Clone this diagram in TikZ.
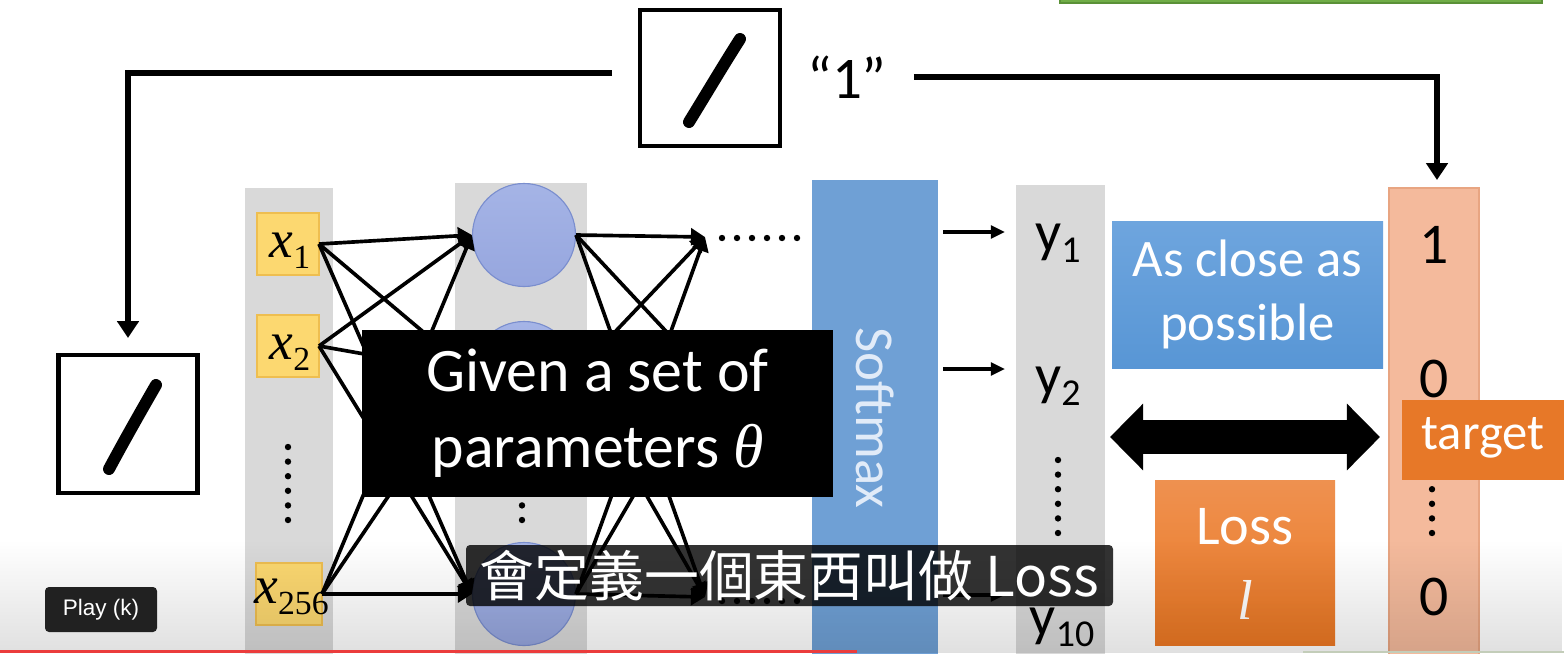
\documentclass[tikz,border=0pt]{standalone}
\usepackage{fontspec}
\setmainfont{Carlito}
\newfontfamily\tnr{Liberation Serif}
\newfontfamily\cjkfont{Noto Sans CJK TC}
\newfontfamily\ytfont{Liberation Sans}
\usetikzlibrary{arrows.meta,calc,fadings}
\newdimen\pxu \pxu=0.025cm
\newcommand\myfs[1]{\fontsize{#1}{#1}\selectfont}
\newcommand\xsym[1]{{\tnr\itshape\myfs{38pt}x}\raisebox{-8pt}{\tnr\myfs{24pt}#1}}
\newcommand\ysym[1]{{\myfs{41pt}y}\raisebox{-8pt}{\myfs{27pt}#1}}
\definecolor{gcol}{RGB}{217,217,217}
\definecolor{xfill}{RGB}{252,216,112}
\definecolor{xdraw}{RGB}{238,190,80}
\definecolor{hfillt}{RGB}{165,180,230}
\definecolor{hfillb}{RGB}{150,166,222}
\definecolor{hdraw}{RGB}{122,142,206}
\definecolor{smax}{RGB}{111,160,213}
\definecolor{smtext}{RGB}{225,235,248}
\definecolor{closet}{RGB}{110,165,222}
\definecolor{closeb}{RGB}{88,150,213}
\definecolor{losst}{RGB}{238,145,80}
\definecolor{lossb}{RGB}{236,120,35}
\definecolor{tcolc}{RGB}{244,186,156}
\definecolor{tcold}{RGB}{232,165,130}
\definecolor{tgtb}{RGB}{231,120,40}
\definecolor{grn}{RGB}{112,173,71}
\definecolor{grnd}{RGB}{90,145,55}
\definecolor{ytred}{RGB}{235,60,60}
\definecolor{lgline}{RGB}{195,205,185}
\begin{document}
\begin{tikzpicture}[x=0.025cm,y=-0.025cm,
  rbox/.style={rectangle, inner sep=0pt, outer sep=0pt},
  digbox/.style={rectangle, draw=black, line width=3.5pt, fill=white, inner sep=0pt, outer sep=0pt},
  digstroke/.style={line width=8.5pt, line cap=round},
  conn/.style={line width=4.5pt, -{Triangle[length=12pt,width=15pt]}},
  netedge/.style={line width=2.6pt, -{Triangle[length=10pt,width=12pt]}},
  sarrow/.style={line width=2.2pt, -{Triangle[length=10pt,width=9pt]}},
  dotf/.style={fill=black}
]
\useasboundingbox (0,0) rectangle (1564,653);
\clip (0,0) rectangle (1564,653);
\fill[white] (0,0) rectangle (1564,653);

% green box at top right
\node[rbox, fill=grn, draw=grnd, line width=1pt, minimum width=482\pxu, minimum height=40\pxu, anchor=south west] (gbox) at (1060,3) {};

% columns
\node[rbox, fill=gcol, minimum width=88\pxu, minimum height=512\pxu] (incol) at (289,444) {};
\node[rbox, fill=gcol, minimum width=132\pxu, minimum height=517\pxu] (hidcol) at (521,441.5) {};
\node[rbox, fill=smax, minimum width=126\pxu, minimum height=520\pxu] (soft) at (875,440) {};
\node[rbox, fill=gcol, minimum width=89\pxu, minimum height=515\pxu] (outcol) at (1060.5,442.5) {};
\node[rbox, fill=tcolc, draw=tcold, line width=0.8pt, minimum width=90\pxu, minimum height=512\pxu] (tcol) at (1434,444) {};

\node[rotate=-90, text=smtext, font=\myfs{39pt}] (smlab) at (875,418) {Softmax};

% digit images
\node[digbox, minimum width=140\pxu, minimum height=136\pxu] (dtop) at (710,78) {};
\draw[digstroke] (689,122) .. controls (705,96) and (724,64) .. (740,39);
\node[digbox, minimum width=139\pxu, minimum height=138\pxu] (dleft) at (128,424) {};
\draw[digstroke] (109,469) .. controls (124,441) and (141,411) .. (156,385);

\node[font=\myfs{42pt}, inner sep=2pt] (lab) at (847,77) {“1”};

% feedback connectors
\coordinate (tl) at (128,73);
\coordinate (tr) at (1437,77);
\coordinate (tt) at ([yshift=8\pxu]tcol.north);
\draw[conn] ([xshift=-28\pxu,yshift=5\pxu]dtop.west) -- (tl) -- ([yshift=17\pxu]dleft.north);
\draw[conn] ([xshift=24\pxu]lab.east) -- (tr) -- (tr |- tt);

% input boxes
\node[rbox, fill=xfill, draw=xdraw, line width=0.8pt, minimum width=62\pxu, minimum height=62\pxu] (xb1) at (288,244) {};
\node[rbox, fill=xfill, draw=xdraw, line width=0.8pt, minimum width=62\pxu, minimum height=62\pxu] (xb2) at (288,346) {};
\node[rbox, fill=xfill, draw=xdraw, line width=0.8pt, minimum width=66\pxu, minimum height=62\pxu] (xb3) at (289,594) {};
\node[inner sep=0pt, anchor=base] (xl1) at (290,257) {\xsym{1}};
\node[inner sep=0pt, anchor=base] (xl2) at (290,359) {\xsym{2}};
\node[inner sep=0pt, anchor=base west] (xl3) at (254,603) {\xsym{256}};

% hidden neurons
\node[circle, top color=hfillt, bottom color=hfillb, draw=hdraw, line width=0.8pt, minimum size=103\pxu, inner sep=0pt] (h1) at (524,235) {};
\node[circle, top color=hfillt, bottom color=hfillb, draw=hdraw, line width=0.8pt, minimum size=103\pxu, inner sep=0pt] (h2) at (524,373) {};
\node[circle, top color=hfillt, bottom color=hfillb, draw=hdraw, line width=0.8pt, minimum size=103\pxu, inner sep=0pt] (h3) at (524,594) {};

\coordinate (n1) at (705,237);
\coordinate (n2) at (705,373);
\coordinate (n3) at (705,597);

\foreach \a in {xb1,xb2,xb3}{\foreach \b in {h1,h2,h3}{\draw[netedge] (\a.east) -- (\b.west);}}
\foreach \a in {h1,h2,h3}{\foreach \b in {n1,n2,n3}{\draw[netedge] (\a.east) -- (\b);}}

% dots
\foreach \i in {0,...,5}{
  \fill[dotf] (288,447+14.6*\i) circle[radius=3.2\pxu];
  \fill[dotf] (522,447+14.6*\i) circle[radius=3.2\pxu];
  \fill[dotf] (722+15*\i,238) circle[radius=3.2\pxu];
  \fill[dotf] (722+15*\i,601) circle[radius=3.2\pxu];
  \fill[dotf] (1058,460+14.6*\i) circle[radius=3.2\pxu];
  \fill[dotf] (1432,460+14.6*\i) circle[radius=3.2\pxu];
}

% softmax outputs
\coordinate (ya1) at (1005,232);
\coordinate (ya2) at (1005,369);
\coordinate (ya3) at (1005,595);
\foreach \c in {ya1,ya2,ya3}{\draw[sarrow] ($(soft.east |- \c)+(5,0)$) -- (\c);}

\node[inner sep=0pt, anchor=base] (y1) at (1058,251) {\ysym{1}};
\node[inner sep=0pt, anchor=base] (y2) at (1058,394) {\ysym{2}};
\node[inner sep=0pt, anchor=base] (y10) at (1062,635) {\ysym{10}};

% right side
\node[rbox, top color=closet, bottom color=closeb, minimum width=271\pxu, minimum height=147\pxu, text=white, align=center, font={\fontsize{37.5pt}{45pt}\selectfont}] (close) at (1247.5,294.5) {As close as\\possible};

\coordinate (dl) at (1110,437);
\coordinate (dr) at (1380,437);
\draw[line width=23.5pt, {Triangle[length=23.5pt,width=46pt]}-{Triangle[length=23.5pt,width=46pt]}] (dl) -- (dr);

\node[rbox, top color=losst, bottom color=lossb, minimum width=180\pxu, minimum height=165\pxu] (loss) at (1245,562.5) {};
\node[text=white, font=\myfs{40pt}] (losst) at (1245,527) {Loss};
\node[text=white, font=\myfs{40pt}] (lossl) at (1245,600) {\tnr\itshape l};

\node[font=\myfs{41pt}] (t1) at (1434,245) {1};
\node[font=\myfs{41pt}] (t2) at (1434,379) {0};
\node[font=\myfs{41pt}] (t3) at (1434,597) {0};

\node[rbox, fill=tgtb, minimum width=200\pxu, minimum height=80\pxu, anchor=west] (tbox) at (1402,440) {};
\node[text=white, font=\myfs{36pt}] (tgt) at (1483,438) {target};

% black caption box
\node[rbox, fill=black, minimum width=471\pxu, minimum height=167\pxu, text=white, align=center, font={\fontsize{44pt}{54pt}\selectfont}] (given) at (597.5,413.5) {Given a set of\\parameters {\tnr\itshape θ}};

% video overlay
\fill[black, fill opacity=0.12, path fading=north] (0,540) rectangle (1564,653);
\node[rbox, fill=black, fill opacity=0.8, text opacity=1, rounded corners=4\pxu, minimum width=647\pxu, minimum height=61\pxu, text=white, font=\cjkfont\myfs{39pt}] (sub) at (789.5,575.5) {會定義一個東西叫做 Loss};
\node[rbox, fill=black!87, rounded corners=4\pxu, minimum width=112\pxu, minimum height=45\pxu, text=white, font=\ytfont\myfs{16pt}] (play) at (101,609.5) {Play (k)};
\fill[ytred] (0,650) rectangle (857,653);
\fill[lgline] (1303,650.5) rectangle (1564,653);
\end{tikzpicture}
\end{document}
